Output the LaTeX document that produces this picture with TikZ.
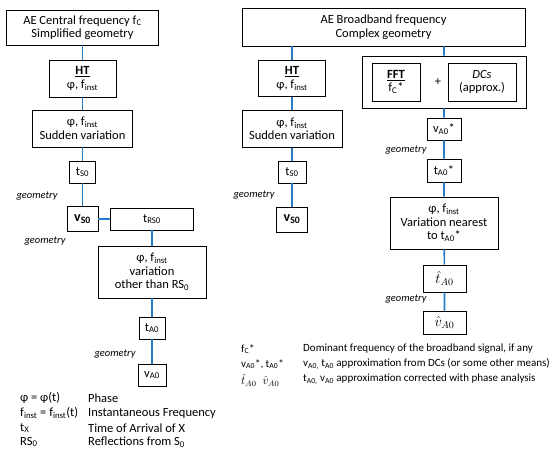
\documentclass[tikz,border=0pt]{standalone}
\usepackage{fontspec}
\setmainfont{Carlito}
\usepackage{amsmath}
\usepackage{tikz}
\usetikzlibrary{positioning, calc}

\definecolor{linkblue}{RGB}{40,125,200}
\newcommand{\lo}[1]{\textsubscript{#1}}
\newcommand{\fin}{φ, f\lo{inst}}

\begin{document}
\begin{tikzpicture}[x=1pt, y=-1pt,
    font=\fontsize{12.5}{13.5}\selectfont,
    box/.style={draw, line width=0.9pt, align=center, inner sep=0pt},
    link/.style={draw=linkblue, line width=1.6pt},
    geo/.style={font=\fontsize{10.5}{12}\selectfont\itshape, anchor=east},
    leg/.style={anchor=west, inner sep=0pt}]
        \useasboundingbox (0,0) rectangle (550,457);

        % left column: central frequency
        \node[box, minimum width=152pt, minimum height=35pt] (ce) at (82.5,27.5) {AE Central frequency f\lo{C}\\Simplified geometry};
        \node[box, minimum width=67pt, minimum height=37pt] (ht1) at (82.5,78.5) {\underline{\textbf{HT}}\\\fin};
        \node[box, minimum width=100pt, minimum height=37pt] (sv1) at (82.5,128.5) {\fin\\Sudden variation};
        \node[box, minimum width=26pt, minimum height=22pt] (ts1) at (82.5,172) {t\lo{S0}};
        \node[box, minimum width=31pt, minimum height=25pt, font=\fontsize{14}{15}\selectfont\bfseries] (vs1) at (82.5,219) {v\lo{S0}};
        \node[box, minimum width=83pt, minimum height=22pt] (trs) at (152,219) {t\lo{RS0}};
        \node[box, minimum width=108pt, minimum height=52pt] (var) at (152,272) {\fin\\variation\\other than RS\lo{0}};
        \node[box, minimum width=26pt, minimum height=22pt] (ta1) at (152,328) {t\lo{A0}};
        \node[box, minimum width=28pt, minimum height=22pt] (va1) at (152,375) {v\lo{A0}};

        \node[geo] (g1) at (61,196) {geometry};
        \node[geo] (g2) at (69,241) {geometry};
        \node[geo] (g3) at (139,354) {geometry};

        \path[link] (ce) -- (ht1) (ht1) -- (sv1) (sv1) -- (ts1) (ts1) -- (vs1)
                    (vs1) -- (trs) (trs) -- (var) (var) -- (ta1) (ta1) -- (va1);

        % broadband frequency
        \node[box, minimum width=283pt, minimum height=38pt] (bb) at (383.5,27) {AE Broadband frequency\\Complex geometry};

        % middle column
        \node[box, minimum width=67pt, minimum height=36pt] (ht2) at (292,78.5) {\underline{\textbf{HT}}\\\fin};
        \node[box, minimum width=100pt, minimum height=37pt] (sv2) at (292,129) {\fin\\Sudden variation};
        \node[box, minimum width=28pt, minimum height=22pt] (ts2) at (292,172) {t\lo{S0}};
        \node[box, minimum width=31pt, minimum height=25pt, font=\fontsize{14}{15}\selectfont\bfseries] (vs2) at (292,219.5) {v\lo{S0}};
        \node[geo] (g4) at (278,195) {geometry};

        \path[link] (bb.south -| ht2) -- (ht2) (ht2) -- (sv2) (sv2) -- (ts2) (ts2) -- (vs2);

        % right column
        \node[box, minimum width=164pt, minimum height=52pt] (pre) at (444,82) {};
        \node[box, minimum width=48pt, minimum height=38pt] (fft) at (396,82) {\underline{\textbf{FFT}}\\f\lo{C}*};
        \node (plus) at (438,82) {+};
        \node[box, minimum width=68pt, minimum height=38pt] (dcs) at (482,82) {\textit{DCs}\\(approx.)};
        \node[box, minimum width=34pt, minimum height=22pt] (va0s) at (444,129) {v\lo{A0}*};
        \node[box, minimum width=34pt, minimum height=23pt] (ta0s) at (444,170.5) {t\lo{A0}*};
        \node[box, minimum width=108pt, minimum height=52pt] (vn) at (444,223) {\fin\\Variation nearest\\to t\lo{A0}*};
        \node[box, minimum width=43pt, minimum height=27pt, font=\Large] (that) at (444.5,278.5) {$\hat{t}_{A0}$};
        \node[box, minimum width=43pt, minimum height=23pt, font=\Large] (vhat) at (444.5,322.5) {$\hat{v}_{A0}$};
        \node[geo] (g5) at (430,150) {geometry};
        \node[geo] (g6) at (430,299) {geometry};

        \path[link] (bb.south -| pre) -- (pre) (pre) -- (va0s) (va0s) -- (ta0s)
                    (ta0s) -- (vn) (vn) -- (that) (that) -- (vhat);

        % legends
        \node[leg] (k1) at (20,398) {φ = φ(t)};
        \node[leg] (k2) at (20,413) {f\lo{inst} = f\lo{inst}(t)};
        \node[leg] (k3) at (20,428) {t\lo{X}};
        \node[leg] (k4) at (20,442) {RS\lo{0}};
        \node[leg] (d1) at (88,398) {Phase};
        \node[leg] (d2) at (88,413) {Instantaneous Frequency};
        \node[leg] (d3) at (88,428) {Time of Arrival of X};
        \node[leg] (d4) at (88,442) {Reflections from S\lo{0}};

        \begin{scope}[font=\fontsize{11}{12}\selectfont]
        \node[leg] (k5) at (241,349) {f\lo{C}*};
        \node[leg] (k6) at (241,364) {v\lo{A0}*, t\lo{A0}*};
        \node[leg, font=\large] (k7) at (241,380) {$\hat{t}_{A0}$\enspace$\hat{v}_{A0}$};
        \node[leg] (d5) at (303,349) {Dominant frequency of the broadband signal, if any};
        \node[leg] (d6) at (303,364) {v\lo{A0,} t\lo{A0} approximation from DCs (or some other means)};
        \node[leg] (d7) at (303,379) {t\lo{A0,} v\lo{A0} approximation corrected with phase analysis};
        \end{scope}
\end{tikzpicture}
\end{document}
